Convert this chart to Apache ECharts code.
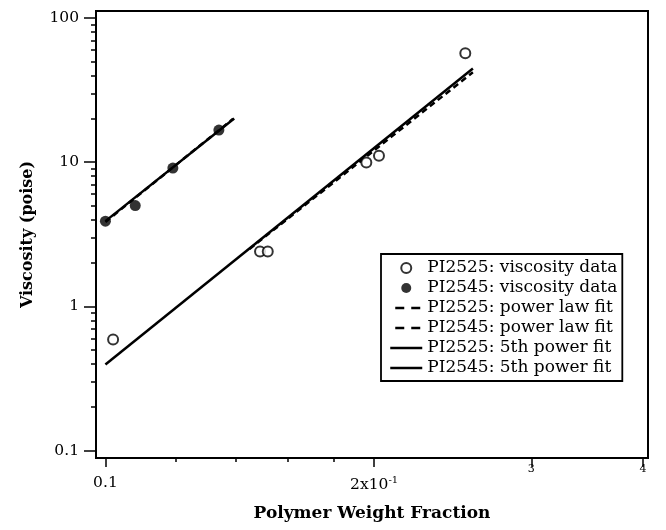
<!DOCTYPE html>
<html>
<head>
<meta charset="utf-8">
<script src="https://cdn.jsdelivr.net/npm/echarts@6/dist/echarts.min.js"></script>
<style>
  html, body { margin: 0; padding: 0; background: #fff; }
  #chart { width: 666px; height: 530px; }
</style>
</head>
<body>
<div id="chart"></div>
<script>
// measured data (log-log plot)
var pi2525X = [0.102, 0.149, 0.152, 0.196, 0.2025, 0.253];
var pi2525Y = [0.59, 2.4, 2.4, 9.95, 11.1, 57];
var pi2545X = [0.1, 0.108, 0.119, 0.134];
var pi2545Y = [3.9, 5.0, 9.1, 16.7];

// fit lines, end points
var pi2525PowerX = [0.145, 0.258];
var pi2525PowerY = [2.5, 42];
var pi2545PowerX = [0.1, 0.139];
var pi2545PowerY = [3.85, 20];
var pi2525FifthX = [0.1, 0.258];
var pi2525FifthY = [0.395, 44.7];
var pi2545FifthX = [0.1, 0.1394];
var pi2545FifthY = [3.9, 20.1];

// axis ticks
var xMajorTicks = [0.1, 0.2, 0.3, 0.4];
var xMainLabels = [0.1, 0.2];
var xSmallLabels = [0.3, 0.4];
var xMinorTicks = [0.12, 0.14, 0.16, 0.18];
var yMajorTicks = [0.1, 1, 10, 100];
var yMinorTicks = [0.2, 0.3, 0.4, 0.5, 0.6, 0.7, 0.8, 0.9,
                   2, 3, 4, 5, 6, 7, 8, 9,
                   20, 30, 40, 50, 60, 70, 80, 90];

var legendNames = [
    'PI2525: viscosity data',
    'PI2545: viscosity data',
    'PI2525: power law fit',
    'PI2545: power law fit',
    'PI2525: 5th power fit',
    'PI2545: 5th power fit'
];

function pairs(xs, ys) {
    var out = [];
    for (var i = 0; i < xs.length; i++) {
        out.push([xs[i], ys[i]]);
    }
    return out;
}

var serif = 'DejaVu Serif';
var xRange = { min: 0.0976, max: 0.4053 };
var yRange = { min: 0.0888, max: 111.8 };

// legend entries: hide the dot that ECharts puts on line icons
var noDot = { color: 'rgba(0,0,0,0)', borderWidth: 0, opacity: 0 };
var dashIcon = { color: '#000', width: 2.5, type: [9, 7], dashOffset: -5 };
var legendData = legendNames.map(function (n, i) {
    if (i < 2) return { name: n };
    if (i < 4) return { name: n, itemStyle: noDot, lineStyle: dashIcon };
    return { name: n, itemStyle: noDot, lineStyle: { color: '#000', width: 2.5, type: 'solid' } };
});

var option = {
    backgroundColor: '#fff',
    animation: false,
    textStyle: { fontFamily: serif, color: '#000' },
    grid: {
        show: true,
        left: 96,
        right: 18,
        top: 11,
        bottom: 72,
        borderColor: '#000',
        borderWidth: 2,
        containLabel: false
    },
    legend: {
        orient: 'vertical',
        left: 381,
        top: 254,
        data: legendData,
        itemWidth: 32,
        itemHeight: 10,
        itemGap: 2,
        padding: [5, 5, 4, 8],
        borderColor: '#000',
        borderWidth: 1.8,
        backgroundColor: '#fff',
        selectedMode: false,
        textStyle: { fontFamily: serif, fontSize: 17, lineHeight: 18, color: '#000' }
    },
    xAxis: [{
        type: 'log',
        min: xRange.min,
        max: xRange.max,
        position: 'bottom',
        name: 'Polymer Weight Fraction',
        nameLocation: 'middle',
        nameGap: 47,
        nameTextStyle: { fontFamily: serif, fontSize: 17, fontWeight: 'bold', color: '#000' },
        axisLine: { show: true, lineStyle: { color: '#000', width: 2 } },
        axisTick: { show: true, inside: false, length: 9, customValues: xMajorTicks,
            lineStyle: { color: '#000', width: 1.5 } },
        axisLabel: {
            customValues: xMainLabels,
            margin: 17,
            formatter: function (v) {
                if (Math.abs(v - 0.1) < 1e-6) return '{n|0.1}';
                return '{n|2x10}{sup|-1}';
            },
            rich: {
                n: { fontFamily: serif, fontSize: 15.5, color: '#000' },
                sup: { fontFamily: serif, fontSize: 10, color: '#000', verticalAlign: 'top', padding: [0, 0, 9, 0] }
            }
        },
        splitLine: { show: false },
        minorTick: { show: false }
    }, {
        type: 'log',
        min: xRange.min,
        max: xRange.max,
        position: 'bottom',
        offset: 0,
        axisLine: { show: false },
        axisTick: { show: true, inside: false, length: 4, customValues: xMinorTicks,
            lineStyle: { color: '#000', width: 1.5 } },
        axisLabel: {
            customValues: xSmallLabels,
            margin: 6,
            fontFamily: serif,
            fontSize: 11,
            color: '#000',
            formatter: function (v) { return String(Math.round(v * 10)); }
        },
        splitLine: { show: false }
    }],
    yAxis: [{
        type: 'log',
        min: yRange.min,
        max: yRange.max,
        position: 'left',
        name: 'Viscosity (poise)',
        nameLocation: 'middle',
        nameGap: 60,
        nameTextStyle: { fontFamily: serif, fontSize: 16, fontWeight: 'bold', color: '#000' },
        axisLine: { show: true, lineStyle: { color: '#000', width: 2 } },
        axisTick: { show: true, inside: false, length: 12, customValues: yMajorTicks,
            lineStyle: { color: '#000', width: 1.5 } },
        axisLabel: {
            customValues: yMajorTicks,
            margin: 17,
            fontFamily: serif,
            fontSize: 15.5,
            color: '#000',
            formatter: function (v) { return String(v); }
        },
        splitLine: { show: false }
    }, {
        type: 'log',
        min: yRange.min,
        max: yRange.max,
        position: 'left',
        offset: 0,
        axisLine: { show: false },
        axisTick: { show: true, inside: false, length: 5, customValues: yMinorTicks,
            lineStyle: { color: '#000', width: 1.5 } },
        axisLabel: { show: false },
        splitLine: { show: false }
    }],
    series: [{
        name: legendNames[0],
        type: 'scatter',
        data: pairs(pi2525X, pi2525Y),
        symbol: 'emptyCircle',
        symbolSize: 10,
        itemStyle: { color: '#000', borderColor: '#000', borderWidth: 1.8 },
        z: 5
    }, {
        name: legendNames[1],
        type: 'scatter',
        data: pairs(pi2545X, pi2545Y),
        symbol: 'circle',
        symbolSize: 11,
        itemStyle: { color: '#000' },
        z: 5
    }, {
        name: legendNames[2],
        type: 'line',
        data: pairs(pi2525PowerX, pi2525PowerY),
        showSymbol: false,
        symbol: 'none',
        lineStyle: { color: '#000', width: 2.5, type: [6, 4] },
        itemStyle: { color: '#000' }
    }, {
        name: legendNames[3],
        type: 'line',
        data: pairs(pi2545PowerX, pi2545PowerY),
        showSymbol: false,
        symbol: 'none',
        lineStyle: { color: '#000', width: 2.5, type: [6, 4] },
        itemStyle: { color: '#000' }
    }, {
        name: legendNames[4],
        type: 'line',
        data: pairs(pi2525FifthX, pi2525FifthY),
        showSymbol: false,
        symbol: 'none',
        lineStyle: { color: '#000', width: 2.5 },
        itemStyle: { color: '#000' }
    }, {
        name: legendNames[5],
        type: 'line',
        data: pairs(pi2545FifthX, pi2545FifthY),
        showSymbol: false,
        symbol: 'none',
        lineStyle: { color: '#000', width: 2.5 },
        itemStyle: { color: '#000' }
    }]
};

var myChart = echarts.init(document.getElementById('chart'));
myChart.setOption(option);
</script>
</body>
</html>
